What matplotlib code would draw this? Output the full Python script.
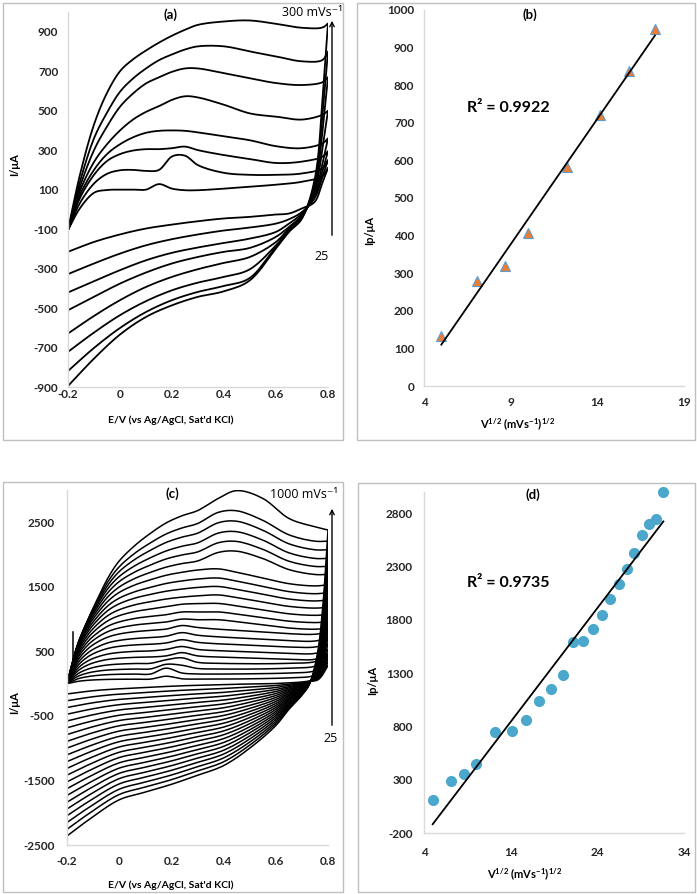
import numpy as np
import matplotlib
matplotlib.use("Agg")
import matplotlib.pyplot as plt
from matplotlib.patches import Rectangle, FancyArrowPatch

plt.rcParams["font.family"] = ["Lato", "DejaVu Sans"]
plt.rcParams["font.weight"] = "bold"
plt.rcParams["axes.unicode_minus"] = False
plt.rcParams["mathtext.fontset"] = "custom"
plt.rcParams["mathtext.rm"] = "Lato:bold"
plt.rcParams["mathtext.it"] = "Lato:bold"
plt.rcParams["mathtext.default"] = "rm"

# ---- (a) CVs, 25..300 mV/s : anodic (forward) and cathodic (reverse) branches
rates_a = [25, 50, 75, 100, 150, 200, 250, 300]
E_up_a = [-0.2, -0.155, -0.1, -0.05, 0.0, 0.05, 0.1, 0.15, 0.2, 0.25, 0.3, 0.4, 0.5, 0.6, 0.7, 0.78, 0.8]
up_a = [
    [-105, 4, 84, 98, 100, 100, 100, 128, 105, 97, 97, 105, 115, 125, 140, 170, 210],
    [-105, 30, 131, 180, 198, 200, 195, 200, 268, 272, 224, 185, 175, 175, 182, 210, 250],
    [-105, 55, 175, 245, 280, 298, 305, 305, 310, 318, 300, 275, 255, 235, 242, 268, 295],
    [-105, 70, 200, 280, 330, 365, 388, 398, 400, 398, 390, 370, 350, 320, 310, 335, 360],
    [-105, 90, 240, 330, 400, 455, 494, 523, 555, 573, 567, 530, 486, 470, 455, 480, 500],
    [-105, 110, 300, 420, 520, 587, 638, 669, 697, 714, 714, 690, 664, 640, 630, 645, 670],
    [-105, 135, 360, 490, 596, 663, 714, 756, 785, 810, 826, 826, 800, 775, 750, 758, 800],
    [-105, 170, 430, 590, 700, 760, 805, 845, 880, 910, 935, 952, 957, 940, 920, 922, 942],
]
E_dn_a = [0.8, 0.78, 0.75, 0.7, 0.65, 0.6, 0.5, 0.4, 0.3, 0.2, 0.1, 0.0, -0.1, -0.2]
dn_a = [
    [210, 140, 40, 5, -21, -26, -38, -46, -60, -77, -97, -127, -165, -215],
    [250, 170, 60, -13, -50, -72, -92, -107, -127, -151, -182, -224, -274, -328],
    [295, 200, 70, -21, -72, -114, -148, -170, -193, -220, -258, -308, -364, -421],
    [360, 240, 80, -29, -89, -139, -195, -215, -241, -274, -320, -376, -443, -511],
    [500, 320, 100, -33, -97, -165, -241, -271, -303, -342, -393, -460, -540, -629],
    [670, 410, 120, -38, -105, -182, -303, -342, -371, -410, -465, -536, -624, -722],
    [800, 500, 140, -43, -111, -190, -347, -388, -418, -460, -520, -601, -702, -819],
    [942, 580, 160, -46, -114, -198, -359, -415, -443, -486, -545, -634, -756, -895],
]

# ---- (b) peak current vs sqrt(scan rate)
sqrt_v_b = [5.0, 7.07, 8.66, 10.0, 12.25, 14.14, 15.81, 17.32]
ip_b = [133, 279, 320, 408, 582, 722, 839, 950]

# ---- (c) CVs, 25..1000 mV/s
rates_c = [25, 50, 75, 100, 150, 200, 250, 300, 350, 400, 450, 500,
           550, 600, 650, 700, 750, 800, 850, 900, 950, 1000]
E_up_c = [-0.2, -0.16, -0.12, -0.08, -0.04, 0.0, 0.06, 0.12, 0.18, 0.24, 0.3, 0.38, 0.45, 0.55, 0.65, 0.75, 0.8]
up_c = [
    [0, 34, 52, 61, 66, 68, 69, 70, 115, 75, 70, 70, 72, 78, 90, 130, 280],
    [0, 73, 109, 129, 140, 145, 148, 149, 240, 165, 150, 148, 150, 155, 165, 200, 330],
    [0, 110, 165, 195, 212, 220, 226, 228, 300, 285, 235, 228, 225, 228, 240, 270, 380],
    [0, 149, 225, 267, 291, 303, 312, 315, 370, 400, 330, 315, 310, 308, 315, 340, 430],
    [0, 192, 290, 344, 377, 394, 407, 412, 430, 480, 430, 412, 403, 390, 378, 378, 460],
    [0, 232, 352, 419, 461, 483, 500, 507, 530, 575, 530, 510, 500, 484, 468, 468, 530],
    [0, 273, 416, 498, 549, 578, 600, 610, 630, 680, 640, 617, 605, 586, 567, 567, 620],
    [0, 313, 477, 574, 636, 670, 699, 713, 735, 790, 750, 725, 710, 688, 666, 660, 710],
    [0, 353, 540, 652, 726, 769, 805, 824, 845, 900, 870, 843, 826, 800, 774, 765, 800],
    [0, 390, 599, 726, 812, 863, 908, 933, 955, 1000, 990, 990, 960, 911, 862, 843, 860],
    [0, 424, 653, 796, 897, 956, 1010, 1042, 1068, 1110, 1110, 1111, 1078, 1023, 968, 946, 957],
    [0, 456, 707, 867, 982, 1053, 1117, 1156, 1191, 1230, 1240, 1242, 1205, 1144, 1082, 1058, 1070],
    [0, 486, 756, 933, 1064, 1145, 1221, 1270, 1311, 1340, 1360, 1374, 1333, 1265, 1197, 1170, 1183],
    [0, 513, 803, 997, 1143, 1237, 1325, 1383, 1432, 1465, 1490, 1505, 1460, 1386, 1311, 1281, 1296],
    [0, 536, 842, 1053, 1217, 1324, 1424, 1492, 1552, 1591, 1620, 1636, 1588, 1507, 1426, 1393, 1409],
    [0, 556, 880, 1109, 1290, 1413, 1529, 1610, 1679, 1725, 1760, 1778, 1725, 1637, 1549, 1514, 1531],
    [0, 572, 912, 1159, 1360, 1497, 1630, 1725, 1805, 1860, 1900, 2033, 2052, 1938, 1767, 1691, 1691],
    [0, 585, 940, 1206, 1426, 1581, 1730, 1838, 1932, 1993, 2040, 2183, 2203, 2081, 1897, 1816, 1816],
    [0, 595, 964, 1247, 1489, 1659, 1827, 1951, 2056, 2128, 2180, 2333, 2354, 2224, 2027, 1940, 1940],
    [0, 596, 976, 1279, 1545, 1736, 1925, 2067, 2188, 2269, 2330, 2493, 2516, 2377, 2167, 2074, 2074],
    [0, 598, 990, 1312, 1600, 1810, 2021, 2182, 2319, 2411, 2480, 2654, 2678, 2530, 2306, 2207, 2207],
    [0, 590, 990, 1340, 1660, 1900, 2140, 2330, 2490, 2600, 2680, 2870, 2990, 2870, 2560, 2430, 2380],
]
E_dn_c = [0.8, 0.78, 0.76, 0.73, 0.7, 0.65, 0.6, 0.5, 0.4, 0.3, 0.2, 0.1, 0.0, -0.1, -0.2]
dn_c = [
    [280, 140, 56, 40, 25, 12, 2, -5, -15, -25, -40, -60, -80, -110, -160],
    [330, 165, 66, 38, 15, -8, -29, -52, -75, -91, -112, -137, -162, -203, -265],
    [380, 190, 76, 36, 5, -27, -60, -100, -135, -158, -185, -214, -244, -296, -370],
    [430, 215, 86, 34, -4, -47, -91, -147, -194, -224, -257, -291, -326, -389, -474],
    [460, 230, 92, 32, -14, -66, -122, -195, -254, -291, -330, -368, -408, -482, -579],
    [530, 265, 106, 31, -24, -86, -153, -242, -314, -357, -402, -446, -490, -575, -684],
    [620, 310, 124, 29, -34, -106, -184, -289, -374, -423, -474, -523, -571, -667, -789],
    [710, 355, 142, 27, -44, -125, -215, -337, -434, -490, -547, -600, -653, -760, -894],
    [800, 400, 160, 25, -53, -145, -246, -384, -493, -556, -619, -677, -735, -853, -998],
    [860, 430, 172, 23, -63, -164, -277, -432, -553, -623, -692, -754, -817, -946, -1103],
    [957, 480, 191, 21, -73, -184, -308, -479, -613, -689, -764, -831, -899, -1039, -1208],
    [1070, 535, 214, 19, -83, -204, -339, -526, -673, -755, -836, -908, -981, -1132, -1313],
    [1183, 590, 237, 17, -93, -223, -370, -574, -733, -822, -909, -985, -1063, -1225, -1418],
    [1296, 650, 259, 15, -102, -243, -401, -621, -792, -888, -981, -1062, -1145, -1318, -1522],
    [1409, 705, 282, 13, -112, -262, -432, -669, -852, -955, -1054, -1139, -1227, -1411, -1627],
    [1531, 765, 306, 12, -122, -282, -463, -716, -912, -1021, -1126, -1217, -1309, -1504, -1732],
    [1691, 845, 338, 10, -132, -302, -494, -763, -972, -1087, -1198, -1294, -1390, -1596, -1837],
    [1816, 910, 363, 8, -142, -321, -525, -811, -1032, -1154, -1271, -1371, -1472, -1689, -1942],
    [1940, 970, 388, 6, -151, -341, -556, -858, -1091, -1220, -1343, -1448, -1554, -1782, -2046],
    [2074, 1035, 415, 4, -161, -360, -587, -906, -1151, -1287, -1416, -1525, -1636, -1875, -2151],
    [2207, 1105, 441, 2, -171, -380, -618, -953, -1211, -1353, -1488, -1602, -1718, -1968, -2256],
    [2380, 1190, 476, 0, -180, -400, -650, -1000, -1270, -1420, -1560, -1680, -1800, -2060, -2360],
]
# stray vertical trace near the start of the scans in (c)
spike_E_c = [-0.177, -0.177]
spike_I_c = [180, 800]

# ---- (d) peak current vs sqrt(scan rate)
sqrt_v_d = [5.0, 7.07, 8.66, 10.0, 12.25, 14.14, 15.81, 17.32, 18.71, 20.0, 21.21,
            22.36, 23.45, 24.49, 25.5, 26.46, 27.39, 28.28, 29.15, 30.0, 30.82, 31.62]
ip_d = [112, 290, 352, 445, 745, 757, 857, 1035, 1150, 1287, 1593,
        1605, 1711, 1849, 1999, 2136, 2273, 2429, 2598, 2700, 2744, 3003]

W, H = 697, 894
fig = plt.figure(figsize=(W / 100, H / 100), dpi=100)


def frac(x, y):
    # pixel position measured from the top-left corner -> figure fraction
    return x / W, 1 - y / H


def make_ax(left, top, right, bottom):
    return fig.add_axes([left / W, 1 - bottom / H, (right - left) / W, (bottom - top) / H])


def style(ax, xpad, ypad):
    for s in ["top", "right"]:
        ax.spines[s].set_visible(False)
    for s in ["left", "bottom"]:
        ax.spines[s].set_color("#D9D9D9")
        ax.spines[s].set_linewidth(1.0)
    ax.tick_params(length=0, labelsize=8.5, colors="#262626")
    ax.tick_params(axis="x", pad=xpad)
    ax.tick_params(axis="y", pad=ypad)


def box(x0, y0, x1, y1):
    fig.patches.append(Rectangle(frac(x0, y1), (x1 - x0) / W, (y1 - y0) / H,
                                 transform=fig.transFigure, fill=False,
                                 ec="#BFBFBF", lw=1.0))


def ftext(x, y, s, **kw):
    fig.text(*frac(x, y), s, ha=kw.pop("ha", "center"), va=kw.pop("va", "center"), **kw)


def arrow(x, y_tail, y_head):
    fig.add_artist(FancyArrowPatch(frac(x, y_tail), frac(x, y_head), transform=fig.transFigure,
                                   arrowstyle="->", mutation_scale=8, lw=1.0, color="black"))


def smooth(x, y, sx, sy, n=10):
    # centripetal Catmull-Rom through the read points (like Excel's smoothed line)
    P = np.column_stack([np.asarray(x, float) / sx, np.asarray(y, float) / sy])
    P = np.vstack([2 * P[0] - P[1], P, 2 * P[-1] - P[-2]])
    out = [P[1]]
    for i in range(1, len(P) - 2):
        p0, p1, p2, p3 = P[i - 1], P[i], P[i + 1], P[i + 2]
        t0 = 0.0
        t1 = t0 + np.linalg.norm(p1 - p0) ** 0.5 + 1e-9
        t2 = t1 + np.linalg.norm(p2 - p1) ** 0.5 + 1e-9
        t3 = t2 + np.linalg.norm(p3 - p2) ** 0.5 + 1e-9
        t = np.linspace(t1, t2, n)[1:, None]
        a1 = (t1 - t) / (t1 - t0) * p0 + (t - t0) / (t1 - t0) * p1
        a2 = (t2 - t) / (t2 - t1) * p1 + (t - t1) / (t2 - t1) * p2
        a3 = (t3 - t) / (t3 - t2) * p2 + (t - t2) / (t3 - t2) * p3
        b1 = (t2 - t) / (t2 - t0) * a1 + (t - t0) / (t2 - t0) * a2
        b2 = (t3 - t) / (t3 - t1) * a2 + (t - t1) / (t3 - t1) * a3
        c = (t2 - t) / (t2 - t1) * b1 + (t - t1) / (t2 - t1) * b2
        out.extend(c)
    out = np.array(out)
    return out[:, 0] * sx, out[:, 1] * sy


def draw_cv(ax, E_up, up, E_dn, dn, sy, lw):
    xu, yu = smooth(E_up, up, 1.0, sy)
    xd, yd = smooth(E_dn, dn, 1.0, sy)
    E = np.concatenate([xu, xd, xu[:1]])
    I = np.concatenate([yu, yd, yu[:1]])
    ax.plot(E, I, color="black", lw=lw, solid_joinstyle="round")


box(3, 3, 343, 440)
box(357, 3, 695, 440)
box(3, 482, 343, 892)
box(358, 483, 695, 892)

cv_ticks = [-0.2, 0, 0.2, 0.4, 0.6, 0.8]
cv_labels = ["-0.2", "0", "0.2", "0.4", "0.6", "0.8"]
note_font = ["Open Sans", "DejaVu Sans"]

# (a)
ax = make_ax(68, 12, 328, 387)
for up, dn in zip(up_a, dn_a):
    draw_cv(ax, E_up_a, up, E_dn_a, dn, 1900.0, 1.3)
ax.set_xlim(-0.2, 0.8)
ax.set_ylim(-900, 1000)
ax.set_xticks(cv_ticks, cv_labels)
ax.set_yticks(np.arange(-900, 901, 200))
style(ax, 1.5, 7)

ftext(170, 15, "(a)", fontsize=9.5)
ftext(343, 13, "300 mVs⁻¹", ha="right", fontsize=9, family=note_font, weight="normal")
arrow(332, 238, 18)
ftext(322, 256, "25", fontsize=9, family=note_font, weight="normal")
ftext(15, 165, "I/μA", rotation=90, fontsize=8)
ftext(171, 420, "E/V (vs Ag/AgCl, Sat'd KCl)", fontsize=7.5)

# (b)
ax = make_ax(424, 10, 684, 386)
coef = np.polyfit(sqrt_v_b, ip_b, 1)
xs = np.array([min(sqrt_v_b), max(sqrt_v_b)])
ax.plot(sqrt_v_b, ip_b, "^", ms=7.5, mfc="#ED7D31", mec="#5B9BD5", mew=0.8, zorder=3, clip_on=False)
ax.plot(xs, np.polyval(coef, xs), color="black", lw=1.3, zorder=4)
ax.set_xlim(4, 19)
ax.set_ylim(0, 1000)
ax.set_xticks([4, 9, 14, 19])
ax.set_yticks(np.arange(0, 1001, 100))
style(ax, 8, 7)

ftext(530, 15, "(b)", fontsize=9.5)
ftext(467, 108, "R² = 0.9922", ha="left", fontsize=11.5)
ftext(370, 230, "Ip/μA", rotation=90, fontsize=8)
ftext(518, 425, r"V$^{1/2}$ (mVs$^{-1}$)$^{1/2}$", fontsize=8)

# (c)
ax = make_ax(67, 490, 328, 845)
for up, dn in zip(up_c, dn_c):
    draw_cv(ax, E_up_c, up, E_dn_c, dn, 5500.0, 1.1)
ax.plot(spike_E_c, spike_I_c, color="black", lw=1.1)
ax.set_xlim(-0.2, 0.8)
ax.set_ylim(-2500, 3000)
ax.set_xticks(cv_ticks, cv_labels)
ax.set_yticks(np.arange(-2500, 2501, 1000))
style(ax, 8, 9)

ftext(172, 494, "(c)", fontsize=9.5)
ftext(338, 494, "1000 mVs⁻¹", ha="right", fontsize=9, family=note_font, weight="normal")
arrow(332, 728, 506)
ftext(331, 738, "25", fontsize=9, family=note_font, weight="normal")
ftext(15, 703, "I/μA", rotation=90, fontsize=8)
ftext(171, 885, "E/V (vs Ag/AgCl, Sat'd KCl)", fontsize=7.5)

# (d)
ax = make_ax(424, 492, 684, 833)
coef = np.polyfit(sqrt_v_d, ip_d, 1)
xs = np.array([min(sqrt_v_d), max(sqrt_v_d)])
ax.plot(sqrt_v_d, ip_d, "o", ms=7, color="#4BA7CB", zorder=3, clip_on=False)
ax.plot(xs, np.polyval(coef, xs), color="black", lw=1.3, zorder=4)
ax.set_xlim(4, 34)
ax.set_ylim(-200, 3000)
ax.set_xticks([4, 14, 24, 34])
ax.set_yticks(np.arange(-200, 2801, 500))
style(ax, 10, 8)

ftext(533, 495, "(d)", fontsize=9.5)
ftext(467, 583, "R² = 0.9735", ha="left", fontsize=11.5)
ftext(373, 680, "Ip/μA", rotation=90, fontsize=8)
ftext(525, 875, r"V$^{1/2}$ (mVs$^{-1}$)$^{1/2}$", fontsize=8)

fig.savefig("out.png", dpi=100)
